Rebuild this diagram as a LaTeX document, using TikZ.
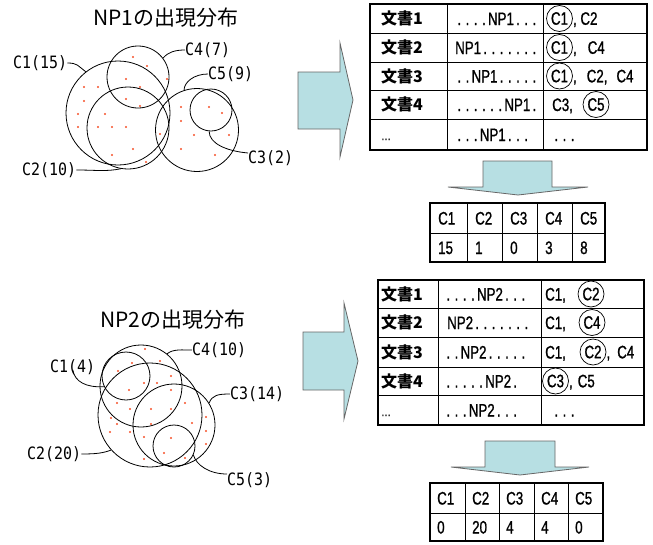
\documentclass[tikz,border=0pt]{standalone}
\usepackage{fontspec}
\usetikzlibrary{positioning}
\newfontfamily\jpfont{Noto Sans CJK JP}
\newfontfamily\tabfont[FakeStretch=0.74,FakeBold=1]{Liberation Sans}
\newfontfamily\lblfont[FakeStretch=0.88]{DejaVu Sans Mono}
\definecolor{arrowfill}{RGB}{183,223,227}
\definecolor{dotred}{RGB}{245,80,40}
\newcommand{\dotrun}[1]{\foreach\k in {1,...,#1}{\makebox[8.2pt]{.}}}

\begin{document}
\begin{tikzpicture}[
    x=1pt, y=-1pt,
    venn/.style={draw, circle, inner sep=0pt, line width=0.8pt, minimum size=#1},
    lbl/.style={font=\lblfont\fontsize{17}{17}\selectfont, inner sep=0pt, anchor=west},
    lead/.style={line width=0.8pt},
    heading/.style={font=\jpfont\fontsize{21}{21}\selectfont, inner sep=0pt},
    cell/.style={font=\tabfont\fontsize{18}{18}\selectfont, inner sep=0pt, anchor=base west},
    tail/.style={cell, text depth=0pt},
    doc/.style={font=\jpfont\bfseries\fontsize{16}{16}\selectfont, inner sep=0pt, anchor=base west},
    hit/.style={draw, circle, minimum size=26pt, inner sep=0pt, line width=0.7pt, font=\tabfont\fontsize{18}{18}\selectfont},
    bigarrow/.style={draw=black!60, fill=arrowfill, line width=0.8pt},
    frame/.style={line width=2.2pt},
    rule/.style={line width=0.9pt}
]
\useasboundingbox (0,0) rectangle (653,544);

% NP1 distribution
\node[heading] (t1) at (166,17.5) {NP1の出現分布};
\node[venn=104pt] (a1) at (118,113) {};
\node[venn=62pt] (a4) at (138,77) {};
\node[venn=82pt] (a2) at (128,128) {};
\node[venn=83pt] (a5) at (197,130) {};
\node[venn=42pt] (a3) at (211,110) {};
\foreach \px/\py in {133/57,147/66,126/79,140/87,167/79,126/99,140/106,84/87,98/87,84/101,
    105/114,78/114,78/127,98/127,112/127,126/127,160/134,133/149,112/155,146/162,
    181/107,181/121,209/107,222/113,194/135,229/135,181/149,215/155}
    \fill[dotred] (\px,\py) circle (1.1pt);

\node[lbl] (la1) at (13,63) {C1(15)};
\node[lbl] (la4) at (185,50) {C4(7)};
\node[lbl] (la5) at (208,74) {C5(9)};
\node[lbl] (la3) at (248,158) {C3(2)};
\node[lbl] (la2) at (22,170) {C2(10)};
\draw[lead] (la1.east) .. controls +(10,0) and +(-8,-6) .. (a1.128);
\draw[lead] (la4.west) .. controls +(-10,0) and +(5,-6) .. (a4.37);
\draw[lead] (la5.west) .. controls +(-14,0) and +(0,-8) .. (a5.108);
\draw[lead] ([yshift=5pt]la3.west) .. controls +(-22,-2) and +(0,12) .. (a3.265);
\draw[lead] (la2.east) .. controls +(20,0) and +(-15,3) .. (a2.260);

% NP2 distribution
\node[heading] (t2) at (173,320) {NP2の出現分布};
\node[venn=48pt] (b1) at (126,376) {};
\node[venn=82pt] (b4) at (141,386) {};
\node[venn=104pt] (b2) at (150,415) {};
\node[venn=82pt] (b3) at (174,425) {};
\node[venn=42pt] (b5) at (174,446) {};
\foreach \px/\py in {145/349,132/363,160/361,118/371,144/383,157/383,171/376,129/390,171/390,
    117/403,130/409,151/409,171/409,185/403,111/418,117/424,151/424,192/423,206/417,
    110/432,130/432,144/437,171/438,206/431,206/444,164/453,144/459,185/458}
    \fill[dotred] (\px,\py) circle (1.1pt);

\node[lbl] (lb1) at (50,367) {C1(4)};
\node[lbl] (lb4) at (192,350) {C4(10)};
\node[lbl] (lb3) at (230,394) {C3(14)};
\node[lbl] (lb2) at (27,454) {C2(20)};
\node[lbl] (lb5) at (227,480) {C5(3)};
\draw[lead] ([yshift=5pt]lb1.south) .. controls +(2,12) and +(-18,1) .. (b1.206);
\draw[lead] (lb4.west) .. controls +(-10,0) and +(6,-5) .. (b4.51);
\draw[lead] (lb3.west) .. controls +(-12,0) and +(3,-8) .. (b3.32);
\draw[lead] (lb2.east) .. controls +(15,0) and +(-8,3) .. (b2.222);
\draw[lead] ([yshift=6pt]lb5.west) .. controls +(-18,0) and +(3,10) .. (b5.335);

% Block arrows
\draw[bigarrow] (298,72) -- (340,72) -- (340,43) -- (353,100) -- (340,157) -- (340,129) -- (298,129) -- cycle;
\draw[bigarrow] (303,332) -- (344,332) -- (344,303) -- (358,361) -- (344,419) -- (344,390) -- (303,390) -- cycle;
\draw[bigarrow] (483,161) -- (552,161) -- (552,187) -- (588,187) -- (518,195) -- (448,187) -- (483,187) -- cycle;
\draw[bigarrow] (485,441) -- (555,441) -- (555,467) -- (589,467) -- (520,475) -- (451,467) -- (485,467) -- cycle;

% Document table for NP1
\foreach \y in {33,62,90,119} \draw[rule] (370,\y) -- (647,\y);
\foreach \x in {447,543} \draw[rule] (\x,4) -- (\x,150);
\draw[frame] (370,4) rectangle (647,150);
\foreach \n/\y in {1/18.5,2/47.5,3/76,4/104.5} \node[doc] (pa\n) at (381,\y+6) {文書\n};
\node[cell, font=\tabfont\fontsize{13}{13}\selectfont] (pa5) at (381,140) {…};
\node[cell] (qa1) at (455,25) {\dotrun{4}NP1\dotrun{3}};
\node[cell] (qa2) at (455,54) {NP1\dotrun{7}};
\node[cell] (qa3) at (455,82.5) {\dotrun{2}NP1\dotrun{5}};
\node[cell] (qa4) at (455,111) {\dotrun{6}NP1\dotrun{1}};
\node[cell] (qa5) at (455,141) {\dotrun{3}NP1\dotrun{3}};
\node[hit] (ra1) at (559.5,18.5) {C1};
\node[tail, right=0pt of ra1] (ra1t) {, C2};
\node[hit] (ra2) at (559.5,47.5) {C1};
\node[tail, right=0pt of ra2] (ra2t) {,\hspace{11pt}C4};
\node[hit] (ra3) at (559.5,76) {C1};
\node[tail, right=0pt of ra3] (ra3t) {,\hspace{10pt}C2,\hspace{9pt}C4};
\node[cell] (ra4) at (552,111) {C3,};
\node[hit] (ra4c) at (596,104.5) {C5};
\node[cell] (ra5) at (552,141) {\dotrun{3}};

% Count table for NP1
\foreach \y in {233} \draw[rule] (430,\y) -- (605,\y);
\foreach \x in {467,502,537,572} \draw[rule] (\x,203) -- (\x,262);
\draw[frame] (430,203) rectangle (605,262);
\foreach \c/\x/\v in {1/430/15,2/467/1,3/502/0,4/537/3,5/572/8} {
    \node[cell] (ha\c) at (\x+8,224.5) {C\c};
    \node[cell] (va\c) at (\x+8,254) {\v};
}

% Document table for NP2
\foreach \y in {308,337,367,395} \draw[rule] (378,\y) -- (644,\y);
\foreach \x in {438,541} \draw[rule] (\x,280) -- (\x,425);
\draw[frame] (378,280) rectangle (644,425);
\foreach \n/\y in {1/294,2/322.5,3/352,4/381} \node[doc] (pb\n) at (381,\y+6) {文書\n};
\node[cell, font=\tabfont\fontsize{13}{13}\selectfont] (pb5) at (381,416) {…};
\node[cell] (qb1) at (444,300.5) {\dotrun{4}NP2\dotrun{3}};
\node[cell] (qb2) at (447,329) {NP2\dotrun{7}};
\node[cell] (qb3) at (444,358.5) {\dotrun{2}NP2\dotrun{5}};
\node[cell] (qb4) at (444,387.5) {\dotrun{5}NP2\dotrun{1}};
\node[cell] (qb5) at (444,416.5) {\dotrun{3}NP2\dotrun{3}};
\node[cell] (rb1) at (545,300.5) {C1,};
\node[hit] (rb1c) at (591,294) {C2};
\node[cell] (rb2) at (545,329) {C1,};
\node[hit] (rb2c) at (592,322.5) {C4};
\node[cell] (rb3) at (545,358.5) {C1,};
\node[hit] (rb3c) at (593,352) {C2};
\node[tail, right=0pt of rb3c] (rb3t) {,\hspace{7pt}C4};
\node[hit] (rb4c) at (555.5,381) {C3};
\node[tail, right=0pt of rb4c] (rb4t) {,\hspace{5pt}C5};
\node[cell] (rb5) at (552,416.5) {\dotrun{3}};

% Count table for NP2
\foreach \y in {513} \draw[rule] (430,\y) -- (603,\y);
\foreach \x in {465,499,534,568} \draw[rule] (\x,483) -- (\x,541);
\draw[frame] (430,483) rectangle (603,541);
\foreach \c/\x/\v in {1/430/0,2/465/20,3/499/4,4/534/4,5/568/0} {
    \node[cell] (hb\c) at (\x+7,504.5) {C\c};
    \node[cell] (vb\c) at (\x+7,533.5) {\v};
}

\end{tikzpicture}
\end{document}
